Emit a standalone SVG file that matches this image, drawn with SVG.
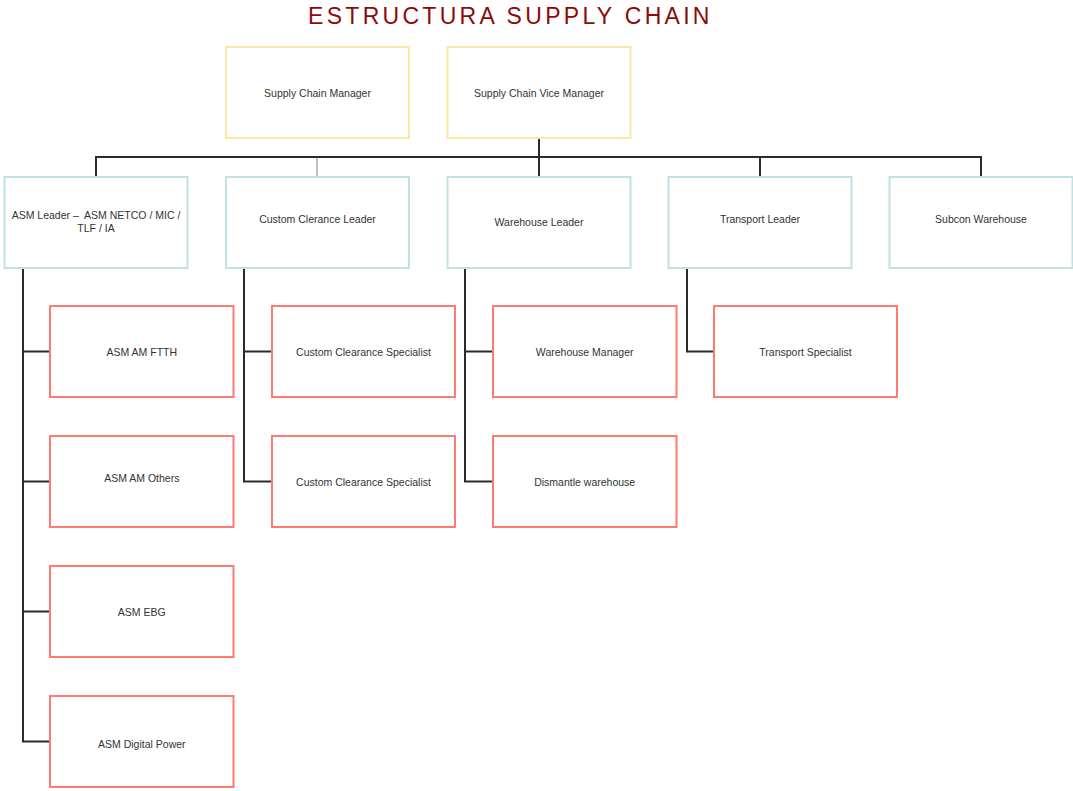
<svg xmlns="http://www.w3.org/2000/svg" width="1073" height="791" viewBox="0 0 1073 791">
<style>
.box{fill:#fff;stroke-width:2}
.top{stroke:#FBE8A6}
.lead{stroke:#BFE3E3}
.sub{stroke:#FF7B72}
.lbl{font-family:"Liberation Sans",Arial,sans-serif;font-size:10.5px;fill:#333;text-anchor:middle;dominant-baseline:central}
.conn{fill:none;stroke:#2b2b2b;stroke-width:2}
.title{font-family:"Liberation Sans",Arial,sans-serif;font-size:23px;fill:#8B0A0A;letter-spacing:3.3px}
</style>
<rect width="1073" height="791" fill="#fff"/>
<text class="title" x="308" y="24">ESTRUCTURA SUPPLY CHAIN</text>
<g id="connectors">
<path class="conn" d="M539 138V177M96 177V157H981V177M760 157V177"/>
<path fill="none" stroke="#BFBFBF" stroke-width="2" d="M317 158V177"/>
<path class="conn" d="M23 268V741.5H50M23 351.5H50M23 481.5H50M23 611.5H50"/>
<path class="conn" d="M244 268V481.5H272M244 351.5H272"/>
<path class="conn" d="M465 268V481.5H493M465 351.5H493"/>
<path class="conn" d="M687 268V351.5H714"/>
</g>
<g id="n-scm"><rect class="box top" x="226" y="47" width="183" height="91"/><text class="lbl" x="317.5" y="92.5">Supply Chain Manager</text></g>
<g id="n-scvm"><rect class="box top" x="447.5" y="47" width="183" height="91"/><text class="lbl" x="539" y="92.5">Supply Chain Vice Manager</text></g>
<g id="n-asm"><rect class="box lead" x="4.5" y="177" width="183" height="91"/><text class="lbl" x="96" y="215">ASM Leader –&#160; ASM NETCO / MIC /</text><text class="lbl" x="96" y="228">TLF / IA</text></g>
<g id="n-ccl"><rect class="box lead" x="226" y="177" width="183" height="91"/><text class="lbl" x="317.5" y="219">Custom Clerance Leader</text></g>
<g id="n-wl"><rect class="box lead" x="447.5" y="177" width="183" height="91"/><text class="lbl" x="539" y="222">Warehouse Leader</text></g>
<g id="n-tl"><rect class="box lead" x="668.5" y="177" width="183" height="91"/><text class="lbl" x="760" y="219">Transport Leader</text></g>
<g id="n-sw"><rect class="box lead" x="889.5" y="177" width="183" height="91"/><text class="lbl" x="981" y="219">Subcon Warehouse</text></g>
<g id="n-ftth"><rect class="box sub" x="50" y="306" width="183.5" height="91"/><text class="lbl" x="141.8" y="352">ASM AM FTTH</text></g>
<g id="n-others"><rect class="box sub" x="50" y="436" width="183.5" height="91"/><text class="lbl" x="141.8" y="478">ASM AM Others</text></g>
<g id="n-ebg"><rect class="box sub" x="50" y="566" width="183.5" height="91"/><text class="lbl" x="141.8" y="612">ASM EBG</text></g>
<g id="n-dp"><rect class="box sub" x="50" y="696" width="183.5" height="91"/><text class="lbl" x="141.8" y="744">ASM Digital Power</text></g>
<g id="n-ccs1"><rect class="box sub" x="272" y="306" width="183" height="91"/><text class="lbl" x="363.5" y="352">Custom Clearance Specialist</text></g>
<g id="n-ccs2"><rect class="box sub" x="272" y="436" width="183" height="91"/><text class="lbl" x="363.5" y="482">Custom Clearance Specialist</text></g>
<g id="n-wm"><rect class="box sub" x="493" y="306" width="183.5" height="91"/><text class="lbl" x="584.7" y="352">Warehouse Manager</text></g>
<g id="n-dw"><rect class="box sub" x="493" y="436" width="183.5" height="91"/><text class="lbl" x="584.7" y="482">Dismantle warehouse</text></g>
<g id="n-ts"><rect class="box sub" x="714" y="306" width="183" height="91"/><text class="lbl" x="805.5" y="352">Transport Specialist</text></g>
</svg>
